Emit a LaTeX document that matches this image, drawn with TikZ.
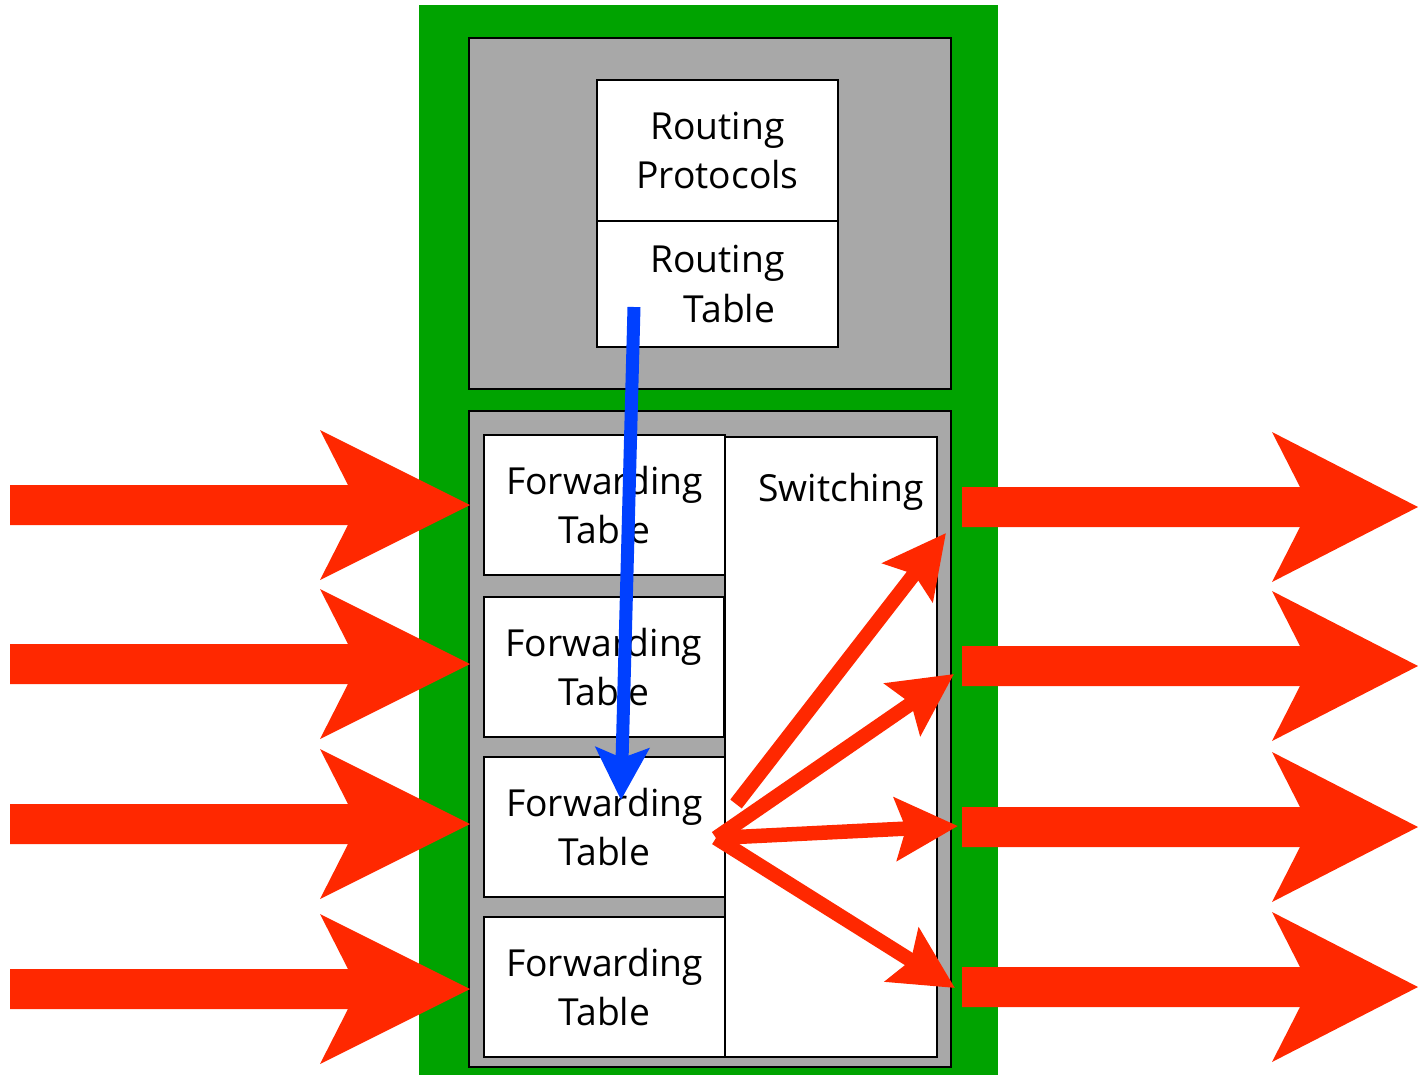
\documentclass[tikz,border=0pt]{standalone}
\usepackage{fontspec}
\setmainfont{Open Sans}
\usetikzlibrary{arrows.meta}

\definecolor{routergreen}{RGB}{0,163,0}
\definecolor{cardgray}{RGB}{168,168,168}
\definecolor{pktred}{RGB}{255,40,0}
\definecolor{updblue}{RGB}{0,64,255}

\begin{document}
\begin{tikzpicture}[x=0.1mm,y=-0.1mm,
  card/.style={draw=black,line width=0.2mm,fill=cardgray},
  tblbox/.style={draw=black,line width=0.15mm,fill=white,inner sep=0pt,
    align=center,font=\fontsize{10.6}{14.2}\selectfont},
  fanarrow/.style={draw=pktred,line width=1.45mm,
    -{Stealth[length=6.2mm,width=6.2mm,inset=1mm]}}]
\useasboundingbox (0,0) rectangle (1418,1075);

% router chassis
\fill[routergreen] (419,5) rectangle (998,1075);
\draw[card] (469,38) rectangle (951,389);
\draw[card] (469,411) rectangle (951,1067);

% control plane
\node[tblbox,minimum width=24.1mm,minimum height=14.1mm] (rproto) at (717.5,150.5) {Routing\\Protocols};
\node[tblbox,minimum width=24.1mm,minimum height=12.6mm] (rtable) at (717.5,284) {Routing\\\hspace*{2.4mm}Table};

% line cards
\node[tblbox,minimum width=21.2mm,minimum height=62mm] (switch) at (831,747) {};
\node[font=\fontsize{10.6}{14.2}\selectfont] (swlabel) at (841,492) {Switching};
\node[tblbox,minimum width=24.1mm,minimum height=14mm] (fwd1) at (604.5,505) {Forwarding\\Table};
\node[tblbox,minimum width=24mm,minimum height=14mm] (fwd2) at (604,667) {Forwarding\\Table};
\node[tblbox,minimum width=24.1mm,minimum height=14mm] (fwd3) at (604.5,827) {Forwarding\\Table};
\node[tblbox,minimum width=24.1mm,minimum height=14mm] (fwd4) at (604.5,987) {Forwarding\\Table};

% table update
\coordinate (rtout) at (634,307);
\coordinate (fwdin) at (621,800);
\draw[updblue,line width=1.3mm,-{Stealth[length=5.2mm,width=5.3mm,inset=1mm]}] (rtout) -- (fwdin);

% switching fabric
\coordinate (hub) at (716,838);
\coordinate (hubtop) at (736,804);
\coordinate (port1) at (946,533);
\coordinate (port2) at (954,674);
\coordinate (port3) at (958,826);
\coordinate (port4) at (955,988);
\draw[fanarrow] (hubtop) -- (port1);
\draw[fanarrow] (hub) -- (port2);
\draw[fanarrow] (hub) -- (port3);
\draw[fanarrow] (hub) -- (port4);

% incoming links
\foreach \y in {505,664,824,989}
  \fill[pktred] (10,\y-20) -- (348,\y-20) -- (320,\y-75) -- (470,\y)
    -- (320,\y+75) -- (348,\y+20) -- (10,\y+20) -- cycle;

% outgoing links
\foreach \y in {507,666,827,987}
  \fill[pktred] (962,\y-20) -- (1300,\y-20) -- (1272,\y-75) -- (1418,\y)
    -- (1272,\y+75) -- (1300,\y+20) -- (962,\y+20) -- cycle;
\end{tikzpicture}
\end{document}
